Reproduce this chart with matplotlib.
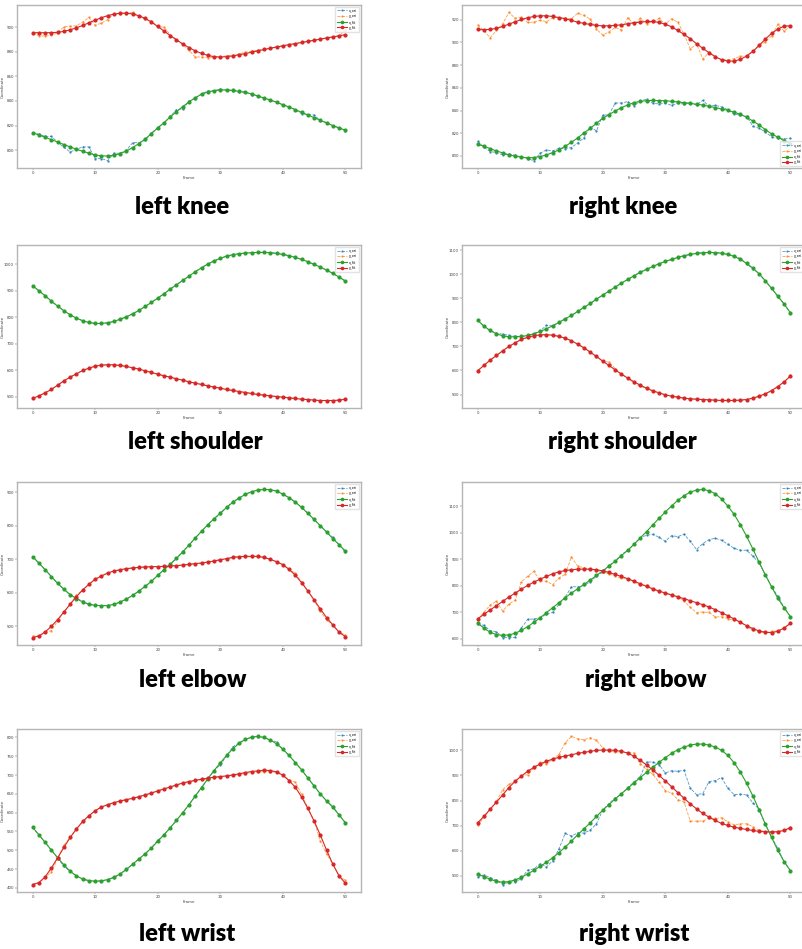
import matplotlib
matplotlib.use("Agg")
import matplotlib.pyplot as plt

frames = list(range(51))

# left knee
lk_x_ori = [814.3, 813.0, 811.3, 811.3, 806.5, 802.4, 798.6, 800.8, 802.7, 802.7, 793.2, 793.2, 791.6, 797.6, 797.6, 800.0, 806.2, 806.2, 808.1, 814.0, 818.5, 822.0, 827.5, 833.0, 833.5, 839.8, 842.0, 845.9, 848.0, 848.2, 849.7, 849.0, 848.3, 847.0, 847.5, 845.2, 844.3, 842.0, 840.5, 839.2, 836.8, 835.3, 832.6, 829.7, 829.0, 828.6, 824.0, 822.5, 819.8, 818.3, 816.0]
lk_y_ori = [894.8, 893.0, 892.7, 893.2, 895.5, 900.2, 900.6, 901.0, 904.0, 907.8, 901.4, 903.2, 906.0, 910.8, 911.0, 911.0, 911.9, 908.6, 906.4, 905.1, 900.0, 900.0, 893.8, 889.9, 885.9, 881.0, 875.7, 875.7, 875.1, 875.7, 875.7, 876.8, 877.1, 878.2, 879.6, 880.4, 881.2, 882.0, 882.6, 884.0, 884.6, 885.9, 886.4, 887.8, 888.1, 889.6, 890.0, 891.4, 892.2, 892.7, 897.8]
lk_x_fit = [814.3, 812.4, 810.5, 808.6, 806.7, 804.6, 802.7, 800.8, 799.2, 797.6, 796.2, 795.4, 795.4, 795.9, 797.3, 799.4, 802.2, 805.4, 809.2, 813.5, 818.1, 822.4, 827.0, 831.3, 835.4, 839.2, 842.7, 845.4, 847.3, 848.4, 848.9, 848.9, 848.6, 847.8, 847.0, 845.7, 844.0, 842.4, 840.8, 838.9, 837.0, 835.1, 833.0, 830.8, 828.6, 826.5, 824.3, 822.2, 820.0, 818.1, 816.2]
lk_y_fit = [895.4, 895.4, 895.4, 895.5, 895.7, 896.5, 897.8, 899.4, 901.3, 903.5, 905.6, 907.6, 909.3, 910.5, 911.2, 911.3, 910.6, 909.2, 907.0, 904.0, 900.5, 896.8, 893.1, 889.6, 886.3, 883.3, 880.7, 878.6, 877.0, 876.0, 875.6, 876.0, 876.6, 877.5, 878.5, 879.6, 880.7, 881.8, 882.8, 883.8, 884.8, 885.7, 886.6, 887.5, 888.4, 889.3, 890.2, 891.1, 892.0, 892.9, 893.8]

# right knee
rk_x_ori = [812.9, 807.7, 803.9, 803.0, 800.9, 801.8, 800.6, 799.2, 797.4, 795.9, 802.4, 805.3, 804.4, 806.8, 806.5, 807.4, 811.5, 815.9, 825.8, 822.0, 835.8, 836.4, 846.7, 846.7, 847.9, 844.3, 848.4, 849.9, 846.4, 845.8, 846.4, 844.6, 846.4, 845.8, 846.7, 844.9, 849.0, 843.7, 844.6, 843.2, 840.8, 836.7, 836.1, 834.9, 826.1, 824.4, 821.2, 816.8, 815.6, 815.0, 815.6]
rk_y_ori = [915.6, 910.6, 904.2, 910.6, 916.5, 926.5, 921.2, 922.3, 917.7, 917.9, 919.7, 918.2, 921.8, 922.0, 921.5, 920.9, 925.9, 923.8, 920.6, 911.8, 906.5, 909.4, 913.3, 910.9, 921.8, 915.9, 921.2, 916.5, 918.2, 921.2, 916.2, 920.9, 917.9, 907.4, 894.2, 898.9, 885.4, 891.3, 887.7, 884.8, 884.8, 885.7, 887.7, 888.3, 892.7, 897.1, 900.6, 905.9, 915.9, 910.0, 914.4]
rk_x_fit = [810.3, 808.5, 806.5, 804.4, 802.7, 800.9, 799.8, 798.9, 798.3, 798.6, 799.5, 800.9, 803.0, 805.3, 808.5, 812.1, 815.9, 820.3, 824.4, 828.8, 833.2, 836.4, 839.6, 842.6, 844.9, 847.0, 848.1, 848.7, 849.0, 848.7, 848.7, 848.1, 847.6, 847.0, 846.4, 845.5, 844.9, 843.7, 842.6, 841.4, 840.2, 838.5, 836.7, 834.1, 830.8, 827.3, 823.2, 819.4, 816.5, 813.5, 810.9]
rk_y_fit = [911.5, 911.2, 911.5, 912.4, 914.1, 916.2, 918.2, 920.3, 921.8, 922.9, 923.5, 923.5, 922.9, 922.0, 920.9, 919.4, 917.9, 916.8, 915.9, 915.0, 914.7, 914.7, 915.0, 915.6, 916.5, 917.4, 917.9, 918.5, 918.5, 917.7, 916.2, 913.8, 910.6, 907.1, 903.3, 898.9, 894.8, 891.0, 887.4, 884.8, 883.6, 883.6, 885.1, 888.0, 892.1, 897.4, 903.0, 908.0, 911.8, 914.4, 914.7]

# left shoulder
ls_x_ori = [919, 901, 882, 860, 843, 825, 810, 797, 788, 781, 777, 777, 780, 785, 793, 802, 814, 826, 841, 857, 873, 889, 907, 923, 939, 956, 972, 988, 1001, 1014, 1023, 1031, 1038, 1040, 1043, 1044, 1045, 1045, 1044, 1042, 1038, 1033, 1026, 1019, 1010, 1000, 990, 978, 966, 952, 937]
ls_y_ori = [494, 503, 516, 529, 544, 560, 575, 587, 600, 608, 616, 620, 621, 621, 619, 615, 610, 605, 598, 592, 586, 580, 574, 568, 563, 557, 552, 547, 542, 537, 533, 528, 524, 520, 517, 513, 509, 507, 504, 501, 499, 496, 494, 491, 490, 488, 486, 486, 486, 488, 491]
ls_x_fit = [919.4, 900.5, 881.6, 861.5, 842.6, 825.0, 809.9, 797.3, 787.2, 780.9, 777.2, 777.2, 779.7, 784.7, 793.5, 802.3, 813.7, 826.3, 841.4, 856.5, 872.8, 889.2, 906.8, 923.2, 939.6, 955.9, 972.3, 987.4, 1001.3, 1012.6, 1022.7, 1031.5, 1036.5, 1040.3, 1042.8, 1044.1, 1045.3, 1045.3, 1044.1, 1041.5, 1037.8, 1032.7, 1026.4, 1018.9, 1010.1, 1000.0, 989.9, 978.6, 966.0, 952.2, 937.1]
ls_y_fit = [493.9, 503.9, 515.3, 527.9, 544.2, 560.6, 574.5, 587.0, 599.6, 608.5, 616.0, 619.8, 621.1, 621.1, 618.5, 614.8, 609.7, 604.7, 598.4, 592.1, 585.8, 579.5, 574.5, 568.2, 563.1, 556.8, 551.8, 546.8, 541.7, 536.7, 532.9, 527.9, 524.1, 520.3, 516.5, 512.8, 509.0, 506.5, 503.9, 501.4, 498.9, 496.4, 493.9, 491.4, 490.1, 487.6, 486.3, 486.3, 486.3, 487.6, 491.4]

# right shoulder
rs_x_ori = [809, 784, 765, 755, 751, 746, 742, 741, 744, 752, 765, 787, 786, 799, 815, 828, 845, 862, 878, 896, 913, 930, 946, 963, 978, 993, 1010, 1020, 1032, 1043, 1053, 1061, 1069, 1077, 1082, 1086, 1088, 1090, 1089, 1087, 1082, 1076, 1065, 1044, 1022, 1002, 970, 942, 906, 877, 840]
rs_y_ori = [599, 621, 643, 660, 682, 699, 715, 729, 736, 742, 748, 749, 747, 742, 734, 723, 709, 694, 676, 658, 640, 634, 608, 585, 568, 548, 534, 525, 515, 507, 499, 494, 489, 485, 482, 481, 479, 478, 477, 475, 475, 476, 477, 479, 485, 492, 502, 516, 532, 550, 580]
rs_x_fit = [809.2, 784.3, 766.2, 752.4, 744.0, 739.9, 739.9, 741.3, 745.4, 752.4, 762.0, 773.1, 785.6, 799.5, 814.7, 828.5, 845.2, 861.8, 878.4, 896.4, 913.0, 929.6, 946.3, 962.9, 978.1, 993.4, 1007.2, 1019.7, 1032.1, 1043.2, 1052.9, 1061.2, 1069.5, 1076.5, 1082.0, 1086.2, 1088.9, 1090.3, 1088.9, 1087.5, 1082.0, 1073.7, 1061.2, 1044.6, 1025.2, 1001.7, 972.6, 940.7, 908.9, 875.6, 839.6]
rs_y_fit = [598.6, 620.8, 643.0, 662.3, 681.8, 699.8, 715.0, 728.8, 738.5, 744.0, 748.2, 748.2, 746.8, 741.3, 734.4, 723.3, 709.4, 694.2, 676.2, 658.2, 638.8, 620.8, 602.8, 584.8, 568.2, 553.0, 539.1, 526.6, 515.5, 507.3, 498.9, 493.4, 489.3, 485.1, 482.3, 480.9, 479.5, 478.1, 476.8, 475.4, 475.4, 475.4, 476.8, 479.5, 485.1, 493.4, 503.1, 516.9, 533.5, 553.0, 576.5]

# left elbow
le_x_ori = [706, 688, 669, 648, 628, 610, 594, 583, 575, 565, 562, 561, 562, 565, 572, 581, 592, 605, 619, 634, 652, 669, 685, 703, 724, 742, 763, 783, 803, 820, 835, 854, 872, 882, 894, 901, 906, 908, 907, 903, 894, 883, 870, 854, 838, 818, 800, 781, 765, 743, 721]
le_y_ori = [471, 470, 482, 487, 516, 543, 566, 593, 608, 625, 641, 650, 658, 665, 668, 672, 674, 675, 677, 677, 678, 678, 680, 681, 682, 684, 687, 688, 691, 695, 698, 701, 705, 706, 707, 707, 707, 706, 700, 692, 684, 670, 658, 633, 605, 578, 544, 519, 503, 482, 475]
le_x_fit = [707.4, 688.6, 668.7, 647.9, 628.0, 610.2, 594.3, 582.4, 572.4, 565.5, 562.5, 561.5, 561.5, 565.5, 572.4, 581.4, 592.3, 605.2, 619.1, 634.0, 651.9, 668.7, 684.6, 702.5, 721.3, 742.2, 763.0, 782.9, 802.7, 820.6, 837.5, 854.3, 869.2, 882.1, 893.0, 901.0, 906.0, 907.9, 906.9, 903.0, 894.0, 883.1, 870.2, 854.3, 836.5, 818.6, 799.7, 780.9, 761.0, 743.2, 724.3]
le_y_fit = [466.2, 471.2, 483.1, 500.0, 519.8, 542.7, 565.5, 588.3, 608.2, 625.1, 640.0, 649.9, 658.8, 664.8, 668.7, 671.7, 673.7, 675.7, 676.7, 677.7, 677.7, 678.6, 679.6, 680.6, 682.6, 684.6, 686.6, 688.6, 691.5, 694.5, 698.5, 701.5, 705.4, 707.4, 708.4, 708.4, 708.4, 705.4, 699.5, 692.5, 683.6, 669.7, 651.9, 630.0, 605.2, 578.4, 551.6, 525.8, 503.9, 482.1, 469.2]

# right elbow
re_x_ori = [654.4, 650.7, 630.6, 626.9, 604.4, 604.4, 605.6, 640.7, 673.2, 674.5, 679.5, 692.0, 699.5, 729.5, 757.1, 795.9, 795.9, 800.9, 814.6, 835.9, 850.9, 876.0, 893.5, 917.3, 933.5, 956.0, 981.1, 989.8, 993.6, 982.3, 967.3, 988.6, 984.8, 993.6, 967.3, 936.0, 958.6, 973.6, 978.6, 971.1, 956.0, 941.0, 933.5, 933.5, 911.0, 886.0, 839.7, 795.9, 760.8, 718.3, 683.2]
re_y_ori = [674.5, 699.5, 727.0, 742.0, 704.5, 730.8, 745.8, 814.6, 835.9, 853.4, 817.1, 817.1, 803.4, 829.6, 842.2, 908.5, 873.5, 867.2, 862.2, 857.2, 850.9, 844.7, 835.9, 827.2, 824.6, 815.9, 800.9, 802.1, 786.1, 776.1, 772.1, 767.1, 758.3, 742.0, 718.3, 698.2, 700.7, 699.5, 681.9, 683.2, 675.7, 669.4, 664.4, 645.6, 633.1, 624.4, 623.1, 628.1, 629.4, 639.4, 658.2]
re_x_fit = [658.2, 640.7, 624.4, 615.6, 613.1, 614.4, 620.6, 631.9, 645.6, 661.9, 679.5, 698.2, 717.0, 735.8, 754.6, 772.1, 788.4, 804.6, 820.9, 838.4, 856.0, 873.5, 892.2, 913.5, 933.5, 956.0, 979.8, 1003.6, 1028.7, 1053.7, 1077.5, 1100.0, 1121.3, 1138.8, 1152.6, 1160.1, 1162.6, 1157.6, 1146.3, 1126.3, 1100.0, 1068.7, 1029.9, 986.1, 938.5, 888.5, 840.9, 795.9, 752.1, 717.0, 683.2]
re_y_fit = [674.5, 692.0, 708.3, 724.5, 740.8, 757.1, 772.1, 787.1, 800.9, 813.4, 824.6, 834.7, 844.7, 852.2, 857.2, 859.7, 862.2, 862.2, 862.2, 859.7, 856.0, 849.7, 842.2, 834.7, 825.9, 817.1, 807.1, 797.1, 788.4, 779.6, 772.1, 764.6, 758.3, 750.8, 743.3, 735.8, 728.3, 719.5, 709.5, 698.2, 687.0, 674.5, 661.9, 649.4, 638.2, 629.4, 624.4, 623.1, 628.1, 640.7, 658.2]

# left wrist
lw_x_ori = [561, 541, 521, 500, 480, 457, 444, 432, 423, 418, 418, 419, 422, 427, 437, 449, 463, 477, 491, 507, 527, 541, 560, 580, 600, 621, 644, 667, 690, 712, 727, 750, 775, 786, 795, 800, 802, 800, 793, 788, 769, 752, 733, 714, 692, 671, 650, 631, 617, 594, 573]
lw_y_ori = [409, 414, 427, 443, 479, 514, 534, 558, 574, 591, 605, 615, 621, 626, 631, 635, 638, 642, 647, 652, 658, 663, 668, 673, 677, 682, 684, 688, 690, 693, 695, 697, 699, 701, 704, 707, 708, 709, 709, 707, 700, 687, 681, 649, 612, 578, 524, 490, 463, 432, 420]
lw_x_fit = [560.9, 541.3, 520.9, 500.4, 480.0, 461.3, 444.4, 432.0, 424.0, 419.6, 417.8, 418.7, 422.2, 428.4, 437.3, 449.8, 463.1, 477.3, 490.7, 506.7, 523.6, 541.3, 560.0, 579.6, 600.0, 621.3, 644.4, 666.7, 689.8, 712.0, 732.4, 752.0, 769.8, 784.0, 794.7, 800.9, 802.7, 800.0, 792.9, 783.1, 768.9, 752.0, 733.3, 713.8, 692.4, 671.1, 649.8, 631.1, 614.2, 593.8, 573.3]
lw_y_fit = [408.9, 414.2, 429.3, 453.3, 480.0, 507.6, 534.2, 556.4, 576.9, 592.0, 605.3, 615.1, 621.3, 626.7, 631.1, 634.7, 638.2, 642.7, 647.1, 652.4, 657.8, 663.1, 668.4, 673.8, 679.1, 682.7, 686.2, 688.9, 691.6, 694.2, 696.0, 697.8, 700.4, 703.1, 706.7, 709.3, 711.1, 712.9, 712.0, 708.4, 699.6, 685.3, 667.6, 641.8, 611.6, 577.8, 540.4, 500.4, 463.1, 432.0, 412.4]

# right wrist
rw_x_ori = [494.7, 504.0, 493.4, 482.8, 465.6, 476.2, 476.2, 489.4, 523.8, 527.8, 548.9, 535.7, 560.8, 608.4, 669.3, 658.7, 671.9, 670.6, 682.5, 707.7, 761.9, 788.4, 810.8, 825.4, 851.8, 874.3, 895.5, 953.7, 953.7, 943.1, 910.0, 919.3, 916.7, 920.6, 849.2, 824.1, 828.0, 875.7, 879.6, 891.5, 849.2, 824.1, 825.4, 822.7, 791.0, 765.9, 706.3, 653.4, 609.8, 556.9, 521.1]
rw_y_ori = [701.1, 732.9, 765.9, 796.3, 843.9, 865.1, 877.0, 899.5, 903.4, 929.9, 952.4, 944.4, 964.3, 984.1, 1030.4, 1055.6, 1046.3, 1042.3, 1050.3, 1039.7, 1010.6, 996.0, 993.4, 993.4, 990.7, 989.4, 947.1, 924.6, 904.8, 874.3, 840.0, 829.4, 804.2, 795.0, 718.2, 718.2, 718.2, 730.2, 728.8, 731.5, 715.6, 703.7, 707.7, 707.7, 695.8, 682.5, 675.9, 675.9, 677.2, 682.5, 694.4]
rw_x_fit = [507.9, 497.3, 486.8, 478.8, 474.9, 477.5, 484.1, 494.7, 507.9, 522.5, 538.3, 554.2, 572.7, 592.6, 615.1, 638.9, 664.0, 687.8, 711.6, 736.8, 761.9, 784.4, 806.9, 828.0, 849.2, 870.4, 891.5, 912.7, 932.5, 952.4, 970.9, 988.1, 1002.6, 1013.2, 1021.2, 1025.1, 1025.1, 1021.2, 1013.2, 1000.0, 980.2, 951.1, 914.0, 869.0, 818.8, 763.2, 706.3, 653.4, 601.8, 556.9, 521.1]
rw_y_fit = [711.6, 736.8, 765.9, 793.6, 822.7, 851.8, 877.0, 898.1, 916.7, 932.5, 945.8, 956.3, 965.6, 972.2, 977.5, 982.8, 988.1, 992.1, 996.0, 1000.0, 1001.3, 1001.3, 1000.0, 996.0, 989.4, 976.2, 960.3, 941.8, 922.0, 900.8, 878.3, 855.8, 832.0, 809.5, 787.0, 767.2, 748.7, 734.1, 720.9, 709.0, 701.1, 694.4, 689.1, 685.2, 681.2, 677.2, 675.9, 674.6, 675.9, 681.2, 691.8]

names = ["left knee", "right knee", "left shoulder", "right shoulder",
         "left elbow", "right elbow", "left wrist", "right wrist"]
series = [
    (lk_x_ori, lk_y_ori, lk_x_fit, lk_y_fit),
    (rk_x_ori, rk_y_ori, rk_x_fit, rk_y_fit),
    (ls_x_ori, ls_y_ori, ls_x_fit, ls_y_fit),
    (rs_x_ori, rs_y_ori, rs_x_fit, rs_y_fit),
    (le_x_ori, le_y_ori, le_x_fit, le_y_fit),
    (re_x_ori, re_y_ori, re_x_fit, re_y_fit),
    (lw_x_ori, lw_y_ori, lw_x_fit, lw_y_fit),
    (rw_x_ori, rw_y_ori, rw_x_fit, rw_y_fit),
]
y_steps = [20, 20, 100, 100, 100, 100, 50, 100]

W, H = 803, 949
fig = plt.figure(figsize=(W / 100, H / 100), dpi=100)

col_left = [17, 462]
row_top = [5, 245, 482, 729]
box_w, box_h = 344, 163
title_x = [182, 623, 195, 622, 193, 646, 187, 634]
title_y = [207, 442, 680, 934]

for i, name in enumerate(names):
    r, c = i // 2, i % 2
    x0 = col_left[c]
    y0 = row_top[r]
    ax = fig.add_axes([x0 / W, 1 - (y0 + box_h) / H, box_w / W, box_h / H])
    x_ori, y_ori, x_fit, y_fit = series[i]
    ax.plot(frames, x_ori, '--', marker='.', color='tab:blue', lw=0.6, ms=1.5, alpha=0.75, label='x_ori')
    ax.plot(frames, y_ori, '--', marker='.', color='tab:orange', lw=0.6, ms=1.5, alpha=0.75, label='y_ori')
    ax.plot(frames, x_fit, '-', marker='o', color='tab:green', lw=0.8, ms=2.0, label='x_fit')
    ax.plot(frames, y_fit, '-', marker='o', color='tab:red', lw=0.8, ms=2.0, label='y_fit')
    ax.set_xticks([0, 10, 20, 30, 40, 50])
    ax.yaxis.set_major_locator(matplotlib.ticker.MultipleLocator(y_steps[i]))
    ax.tick_params(labelsize=2.9, length=1.2, width=0.3, pad=1, colors='#444444')
    ax.set_xlabel('Frame', fontsize=2.9, labelpad=1, color='#444444')
    ax.set_ylabel('Coordinate', fontsize=2.9, color='#444444')
    ax.yaxis.set_label_coords(-0.036, 0.5)
    for sp in ax.spines.values():
        sp.set_color('#b5b5b5')
        sp.set_linewidth(1.0)
    loc = 'lower right' if i == 1 else 'upper right'
    ax.legend(loc=loc, fontsize=2.4, handlelength=3, markerscale=0.8, borderpad=0.6,
              labelspacing=0.5, framealpha=0.8, edgecolor='#dddddd')
    fig.text(title_x[i] / W, 1 - title_y[r] / H, name, ha='center', va='center',
             fontsize=17, fontweight='heavy', family=['Lato', 'DejaVu Sans'])

fig.savefig('out.png', dpi=100)
